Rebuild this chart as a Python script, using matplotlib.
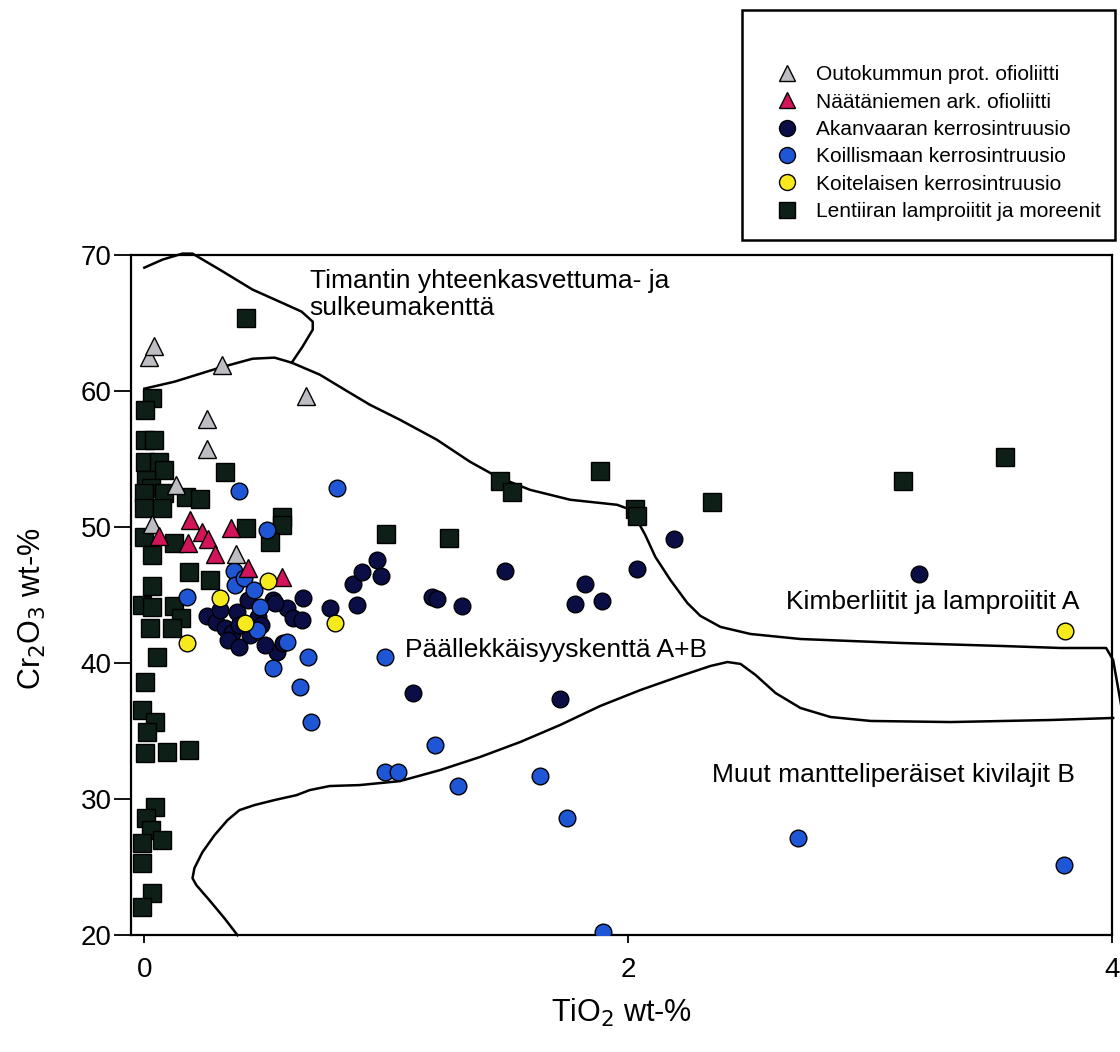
"""Cr2O3 vs TiO2 discrimination diagram for chromites (diamond indicator fields)."""

import matplotlib
matplotlib.use("Agg")
import matplotlib.pyplot as plt
from matplotlib.lines import Line2D
from matplotlib.patches import Rectangle

plt.rcParams["font.family"] = ["Liberation Sans", "DejaVu Sans"]

# --- data: TiO2 (x) and Cr2O3 (y), wt-% ---
outokumpu_ti = [0.02, 0.04, 0.32, 0.26, 0.26, 0.67, 0.13, 0.03, 0.38]
outokumpu_cr = [62.5, 63.3, 61.9, 57.9, 55.7, 59.6, 53.1, 50.2, 48.0]

naataniemi_ti = [0.19, 0.24, 0.265, 0.36, 0.06, 0.18, 0.29, 0.43, 0.57]
naataniemi_cr = [50.5, 49.6, 49.1, 49.9, 49.3, 48.8, 48.0, 47.0, 46.3]

akanvaara_ti = [0.257, 0.298, 0.335, 0.364, 0.344, 0.393, 0.311, 0.385, 0.427, 0.468,
                0.484, 0.530, 0.588, 0.613, 0.650, 0.654, 0.766, 0.542, 0.547, 0.571,
                0.435, 0.393, 0.497, 0.861, 0.899, 0.961, 0.977, 0.878, 1.188, 1.209,
                1.313, 1.491, 1.781, 1.822, 1.892, 2.037, 2.190, 3.201, 1.110, 1.718]
akanvaara_cr = [43.46, 43.01, 42.57, 42.21, 41.69, 41.18, 43.90, 43.75, 44.63, 43.38,
                42.79, 44.63, 44.04, 43.31, 43.16, 44.78, 44.04, 44.41, 40.81, 41.47,
                42.06, 42.79, 41.32, 45.81, 46.69, 47.57, 46.40, 44.26, 44.85, 44.71,
                44.19, 46.76, 44.34, 45.81, 44.56, 46.91, 49.12, 46.54, 37.79, 37.35]

koillismaa_ti = [0.393, 0.795, 0.505, 0.369, 0.373, 0.41, 0.455, 0.476, 0.464, 0.178,
                 0.588, 0.675, 0.530, 0.642, 0.994, 0.69, 1.201, 0.994, 1.048, 1.296,
                 1.636, 1.747, 2.700, 3.801, 1.896]
koillismaa_cr = [52.65, 52.87, 49.78, 46.76, 45.74, 46.25, 45.37, 44.12, 42.43, 44.85,
                 41.54, 40.44, 39.63, 38.24, 40.44, 35.66, 33.97, 32.0, 32.0, 30.97,
                 31.69, 28.60, 27.13, 25.15, 20.22]

koitelainen_ti = [0.513, 0.311, 0.414, 0.178, 0.787, 3.805]
koitelainen_cr = [46.03, 44.78, 42.94, 41.47, 42.94, 42.35]

lentiira_ti = [0.422, 0.033, 0.004, 0.004, 0.041, 0.004, 0.062, 0.083, 0.008, 0.029,
               0.083, 0.0, 0.0, 0.075, 0.174, 0.228, 0.335, 0.0, 0.124, 0.033,
               0.186, 0.273, 0.033, -0.008, 0.033, 0.124, 0.153, 0.025, 0.116, 0.054,
               0.004, -0.008, 0.046, 0.012, 0.004, 0.095, 0.186, 0.046, 0.008, 0.029,
               0.075, -0.008, -0.008, 0.033, -0.008, 0.422, 0.567, 0.567, 0.518, 0.998,
               1.259, 1.470, 1.520, 1.884, 2.029, 2.037, 2.348, 3.135, 3.557]
lentiira_cr = [65.37, 59.49, 58.60, 56.40, 56.40, 54.78, 54.78, 54.19, 53.46, 52.87,
               52.50, 52.50, 51.40, 51.40, 52.21, 52.06, 54.04, 49.26, 48.82, 47.94,
               46.69, 46.10, 45.66, 44.26, 44.12, 44.19, 43.31, 42.57, 42.57, 40.44,
               38.60, 36.54, 35.66, 34.93, 33.38, 33.46, 33.60, 29.41, 28.60, 27.72,
               26.99, 26.76, 25.29, 23.09, 22.06, 49.93, 50.74, 50.15, 48.90, 49.49,
               49.19, 53.38, 52.57, 54.12, 51.32, 50.81, 51.84, 53.38, 55.15]

# --- field boundaries ---
diamond_ti = [0.0, 0.075, 0.157, 0.199, 0.311, 0.447, 0.559, 0.650, 0.696, 0.696, 0.654, 0.609]
diamond_cr = [69.04, 69.63, 70.07, 70.07, 68.90, 67.43, 66.54, 65.81, 65.07, 64.49, 63.24, 62.06]

upper_ti = [0.0, 0.124, 0.311, 0.447, 0.538, 0.609, 0.725, 0.849, 0.932, 1.056,
            1.209, 1.346, 1.458, 1.594, 1.760, 1.954, 2.0, 2.029, 2.070, 2.112,
            2.174, 2.244, 2.298, 2.381, 2.505, 2.712, 3.126, 3.540, 3.789, 3.975,
            4.004, 4.037]
upper_cr = [60.15, 60.66, 61.69, 62.35, 62.43, 62.06, 61.18, 59.85, 58.97, 57.87,
            56.40, 54.78, 53.68, 52.72, 51.99, 51.62, 51.32, 50.74, 49.41, 47.79,
            46.10, 44.41, 43.46, 42.65, 42.13, 41.76, 41.47, 41.25, 41.10, 41.10,
            40.22, 36.91]

lower_ti = [0.385, 0.331, 0.269, 0.215, 0.199, 0.207, 0.240, 0.290, 0.344, 0.393,
            0.455, 0.538, 0.629, 0.683, 0.766, 0.890, 1.056, 1.222, 1.387, 1.553,
            1.718, 1.884, 2.050, 2.215, 2.340, 2.410, 2.464, 2.526, 2.609, 2.712,
            2.836, 3.002, 3.333, 3.747, 4.004]
lower_cr = [20.0, 21.25, 22.57, 23.68, 24.19, 24.93, 26.10, 27.35, 28.46, 29.19,
            29.56, 29.93, 30.29, 30.66, 30.96, 31.03, 31.32, 32.13, 33.09, 34.19,
            35.44, 36.84, 38.01, 39.04, 39.78, 40.07, 39.93, 39.12, 37.79, 36.69,
            36.03, 35.74, 35.66, 35.81, 35.96]

GROUPS = [
    ("Lentiiran lamproiitit ja moreenit", lentiira_ti, lentiira_cr, "s", "#0d1f16"),
    ("Akanvaaran kerrosintruusio", akanvaara_ti, akanvaara_cr, "o", "#0b0d45"),
    ("Koillismaan kerrosintruusio", koillismaa_ti, koillismaa_cr, "o", "#1e56d6"),
    ("Outokummun prot. ofioliitti", outokumpu_ti, outokumpu_cr, "^", "#bdbdc4"),
    ("Näätäniemen ark. ofioliitti", naataniemi_ti, naataniemi_cr, "^", "#d4145a"),
    ("Koitelaisen kerrosintruusio", koitelainen_ti, koitelainen_cr, "o", "#f7ea1c"),
]
LEGEND_ORDER = [3, 4, 1, 2, 5, 0]
MARKER_SIZE = {"s": 13, "o": 12, "^": 12.5}
FIELD_FS = 19


def main():
    fig = plt.figure(figsize=(11.2, 10.52), dpi=100)
    ax = fig.add_axes([0.117, 0.111, 0.876, 0.647])

    for x, y in [(diamond_ti, diamond_cr), (upper_ti, upper_cr), (lower_ti, lower_cr)]:
        ax.plot(x, y, color="black", lw=1.8, clip_on=False, zorder=2)

    handles = []
    for label, x, y, marker, color in GROUPS:
        ms = MARKER_SIZE[marker]
        ax.plot(x, y, linestyle="none", marker=marker, ms=ms, mfc=color,
                mec="black", mew=1.0, zorder=3)
        handles.append(Line2D([], [], linestyle="none", marker=marker, ms=11.5,
                              mfc=color, mec="black", mew=1.0, label=label))

    ax.set_xlim(-0.055, 4.0)
    ax.set_ylim(20, 70)
    ax.set_xticks([0, 2, 4])
    ax.set_yticks([20, 30, 40, 50, 60, 70])
    ax.tick_params(axis="both", direction="out", labelsize=20, width=1.3)
    ax.tick_params(axis="y", length=12, pad=2)
    ax.tick_params(axis="x", length=6, pad=10)
    for spine in ax.spines.values():
        spine.set_linewidth(1.6)

    ax.set_xlabel("TiO$_2$ wt-%", fontsize=22, labelpad=10)
    ax.set_ylabel("Cr$_2$O$_3$ wt-%", fontsize=22, labelpad=22)
    ax.yaxis.set_label_coords(-0.085, 0.48)

    ax.text(0.683, 67.06, "Timantin yhteenkasvettuma- ja\nsulkeumakenttä",
            fontsize=FIELD_FS, va="center", ha="left", linespacing=1.15)
    ax.text(1.077, 40.96, "Päällekkäisyyskenttä A+B", fontsize=FIELD_FS, va="center")
    ax.text(2.65, 44.49, "Kimberliitit ja lamproiitit A", fontsize=FIELD_FS, va="center")
    ax.text(2.348, 31.76, "Muut mantteliperäiset kivilajit B", fontsize=FIELD_FS,
            va="center")

    fig.patches.append(Rectangle((742 / 1120, 1 - 240 / 1052), 373 / 1120, 230 / 1052,
                                 transform=fig.transFigure, fill=False,
                                 edgecolor="black", lw=1.8))
    fig.legend([handles[i] for i in LEGEND_ORDER],
               [GROUPS[i][0] for i in LEGEND_ORDER],
               loc="upper left", bbox_to_anchor=(765 / 1120, 1 - 57 / 1052),
               frameon=False, fontsize=15, handletextpad=0.75, labelspacing=0.4,
               borderaxespad=0, handlelength=1.3)

    fig.savefig("out.png", dpi=100)
    plt.close(fig)


if __name__ == "__main__":
    main()
